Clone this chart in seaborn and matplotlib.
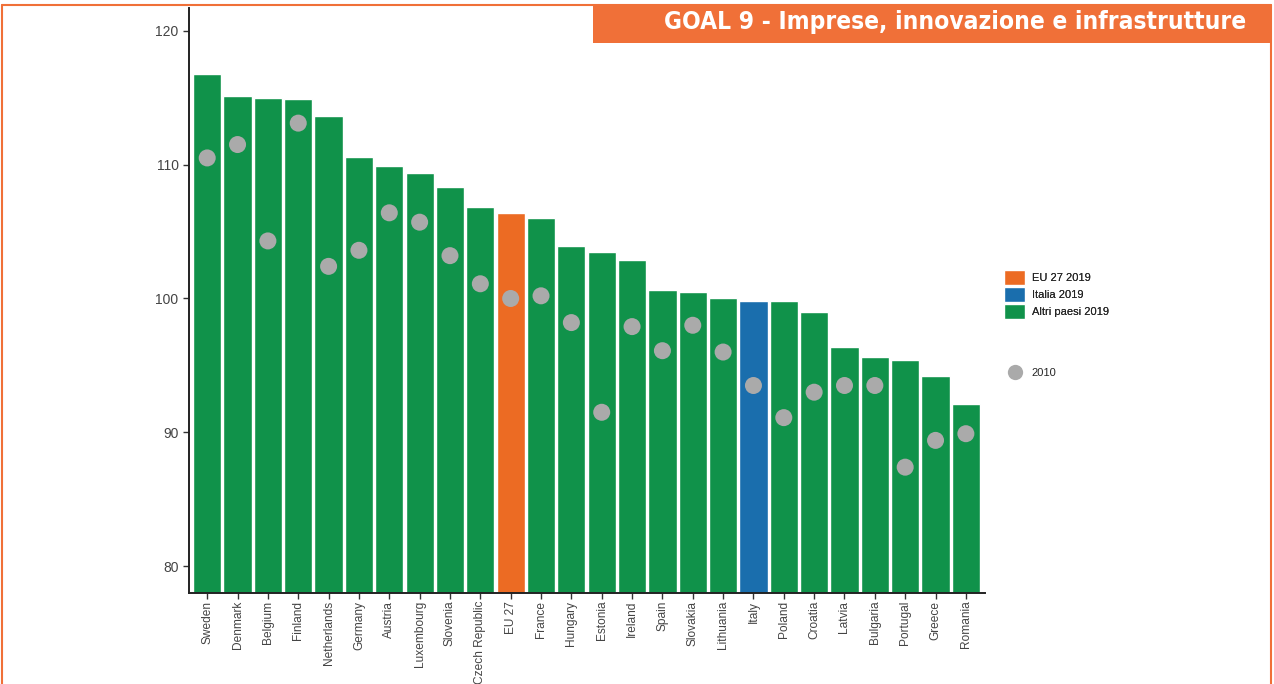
import matplotlib
matplotlib.use("Agg")
import matplotlib.pyplot as plt
import seaborn as sns
import pandas as pd
from matplotlib.patches import Patch, Rectangle
from matplotlib.lines import Line2D

countries = ["Sweden", "Denmark", "Belgium", "Finland", "Netherlands", "Germany", "Austria",
             "Luxembourg", "Slovenia", "Czech Republic", "EU 27", "France", "Hungary", "Estonia",
             "Ireland", "Spain", "Slovakia", "Lithuania", "Italy", "Poland", "Croatia", "Latvia",
             "Bulgaria", "Portugal", "Greece", "Romania"]
values_2019 = [116.8, 115.1, 115.0, 114.9, 113.6, 110.6, 109.9, 109.4, 108.3, 106.8, 106.4, 106.0,
               103.9, 103.5, 102.9, 100.6, 100.5, 100.0, 99.8, 99.8, 99.0, 96.4, 95.6, 95.4,
               94.2, 92.1]
values_2010 = [110.5, 111.5, 104.3, 113.1, 102.4, 103.6, 106.4, 105.7, 103.2, 101.1, 100.0, 100.2,
               98.2, 91.5, 97.9, 96.1, 98.0, 96.0, 93.5, 91.1, 93.0, 93.5, 93.5, 87.4, 89.4, 89.9]
groups = ["Altri paesi 2019"] * 10 + ["EU 27 2019"] + ["Altri paesi 2019"] * 7 + ["Italia 2019"] + ["Altri paesi 2019"] * 7
legend_labels = ["EU 27 2019", "Italia 2019", "Altri paesi 2019"]
point_label = "2010"
title = "GOAL 9 - Imprese, innovazione e infrastrutture"

palette = {"EU 27 2019": "#EC6B23", "Italia 2019": "#1A6EAD", "Altri paesi 2019": "#10924A"}
grey = "#AAAAAA"
orange = "#F07038"

df = pd.DataFrame({"country": countries, "v2019": values_2019, "v2010": values_2010, "group": groups})

sns.set_theme(style="white")
plt.rcParams["font.family"] = ["Liberation Sans", "DejaVu Sans"]

fig = plt.figure(figsize=(12.74, 6.84), dpi=100)
ax = fig.add_axes([189 / 1274, 1 - 593 / 684, (985 - 189) / 1274, (593 - 8) / 684])

sns.barplot(data=df, x="country", y="v2019", hue="group", palette=palette, dodge=False,
            saturation=1, width=0.93, edgecolor="white", linewidth=1.0, legend=False, ax=ax,
            order=countries)
sns.scatterplot(data=df, x="country", y="v2010", color=grey, s=150, edgecolor="none",
                legend=False, ax=ax, zorder=5)

ax.set_ylim(78, 121.7)
ax.set_xlim(-0.6, 25.63)
ax.set_yticks([80, 90, 100, 110, 120])
ax.set_xlabel("")
ax.set_ylabel("")
for s in ["top", "right"]:
    ax.spines[s].set_visible(False)
for s in ["left", "bottom"]:
    ax.spines[s].set_color("#222222")
    ax.spines[s].set_linewidth(1.4)
ax.tick_params(axis="both", which="both", length=4, width=1, color="#333333",
               labelcolor="#444444", labelsize=10, direction="out", bottom=True, left=True)
ax.tick_params(axis="x", labelrotation=90, labelsize=8.6, pad=1.5)
for lab in ax.get_xticklabels():
    lab.set_verticalalignment("top")

handles = [Patch(facecolor=palette[l], edgecolor="white", label=l) for l in legend_labels]
leg1 = fig.legend(handles=handles, loc="upper left", bbox_to_anchor=(994 / 1274, 1 - 260 / 684),
                  frameon=False, fontsize=8, handlelength=1.9, handleheight=1.75,
                  handletextpad=0.6, labelspacing=0.15)
fig.add_artist(leg1)
h2 = [Line2D([0], [0], marker="o", color="none", markerfacecolor=grey, markeredgecolor="none",
             markersize=11, label=point_label)]
fig.legend(handles=h2, loc="upper left", bbox_to_anchor=(994 / 1274, 1 - 358 / 684),
           frameon=False, fontsize=8, handlelength=1.9, handletextpad=0.6)

# page frame and header
fig.add_artist(Line2D([2 / 1274, 2 / 1274], [0, 1 - 5 / 684], transform=fig.transFigure, color=orange, lw=1.5))
fig.add_artist(Line2D([2 / 1274, 1271 / 1274], [1 - 5 / 684, 1 - 5 / 684], transform=fig.transFigure, color=orange, lw=1.5))
fig.add_artist(Line2D([1271 / 1274, 1271 / 1274], [0, 1 - 5 / 684], transform=fig.transFigure, color=orange, lw=1.5))
fig.add_artist(Rectangle((593 / 1274, 1 - 43 / 684), (1271 - 593) / 1274, 38 / 684,
                         transform=fig.transFigure, facecolor=orange, edgecolor="none"))
fig.text(1246 / 1274, 1 - 22 / 684, title, ha="right", va="center", color="white",
         fontsize=17.6, fontweight="bold", family=["DejaVu Sans"], fontstretch="condensed")

fig.savefig("out.png", dpi=100)
